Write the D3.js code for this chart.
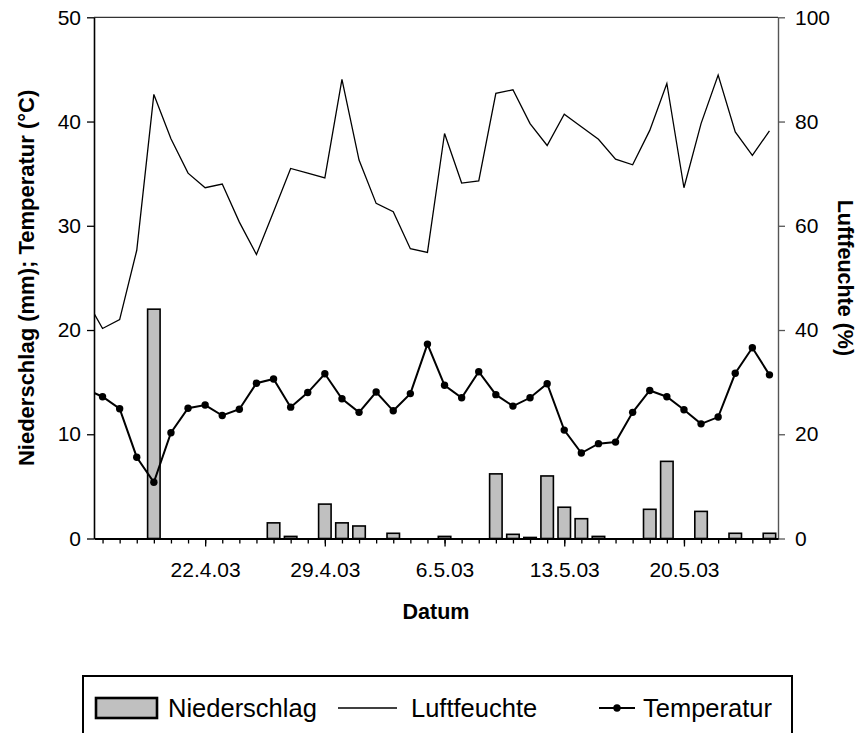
<!DOCTYPE html>
<html>
<head>
<meta charset="utf-8">
<script src="https://cdn.jsdelivr.net/npm/d3@7"></script>
<style>
  body { margin: 0; background: #fff; }
  svg { display: block; }
  text { font-family: "Liberation Sans", Arial, Helvetica, sans-serif; fill: #000; }
</style>
</head>
<body>
<svg id="chart" width="858" height="733"></svg>
<script>
// Daily series, 15.4.03 – 25.5.03 (first day lies just left of the plotted range)
const firstDay = "2003-04-15";
const axisStart = "2003-04-16";
const axisEnd = "2003-05-25";
const labelDays = ["2003-04-22", "2003-04-29", "2003-05-06", "2003-05-13", "2003-05-20"];

// Niederschlag (mm)
const niederschlag = [
  0,
  0, 0, 0, 22.0, 0, 0, 0, 0, 0, 0,
  1.5, 0.2, 0, 3.3, 1.5, 1.2, 0, 0.5, 0, 0,
  0.2, 0, 0, 6.2, 0.4, 0.1, 6.0, 3.0, 1.9, 0.2,
  0, 0, 2.8, 7.4, 0, 2.6, 0, 0.5, 0, 0.5
];

// Temperatur (°C)
const temperatur = [
  14.35,
  13.6, 12.45, 7.8, 5.4, 10.15, 12.5, 12.8, 11.8, 12.4, 14.9,
  15.3, 12.6, 14.0, 15.8, 13.4, 12.1, 14.05, 12.25, 13.9, 18.65,
  14.7, 13.5, 16.0, 13.8, 12.7, 13.5, 14.85, 10.4, 8.2, 9.1,
  9.25, 12.1, 14.2, 13.6, 12.35, 11.0, 11.65, 15.85, 18.3, 15.7
];

// Luftfeuchte (%)
const luftfeuchte = [
  46.1,
  40.3, 42.0, 55.3, 85.2, 76.7, 70.1, 67.3, 68.0, 60.7, 54.5,
  62.7, 71.0, 70.1, 69.2, 88.1, 72.6, 64.3, 62.7, 55.6, 54.9,
  77.7, 68.2, 68.6, 85.4, 86.1, 79.6, 75.4, 81.4, 79.0, 76.6,
  72.8, 71.7, 78.3, 87.3, 67.3, 79.6, 88.9, 78.0, 73.5, 78.2
];

const leftTicks = [0, 10, 20, 30, 40, 50];
const rightTicks = [0, 20, 40, 60, 80, 100];

const parse = d3.utcParse("%Y-%m-%d");
const dates = d3.utcDay.range(parse(firstDay), d3.utcDay.offset(parse(firstDay), niederschlag.length));
const rows = dates.map((d, i) => ({ date: d, n: niederschlag[i], t: temperatur[i], h: luftfeuchte[i] }));

const plot = { left: 94, right: 778, top: 17.3, bottom: 538.5 };
const halfDay = 12 * 3600 * 1000;

const x = d3.scaleUtc()
  .domain([new Date(+parse(axisStart) - halfDay), new Date(+parse(axisEnd) + halfDay)])
  .range([plot.left, plot.right]);
const yL = d3.scaleLinear().domain([0, 50]).range([plot.bottom, plot.top]);
const yR = d3.scaleLinear().domain([0, 100]).range([plot.bottom, plot.top]);

const dayW = x(d3.utcDay.offset(parse(axisStart), 1)) - x(parse(axisStart));
const barW = dayW * 0.73;

const svg = d3.select("#chart");

svg.append("defs").append("clipPath").attr("id", "plotClip")
  .append("rect")
  .attr("x", plot.left).attr("y", plot.top - 5)
  .attr("width", plot.right - plot.left).attr("height", plot.bottom - plot.top + 5);

// top frame line
svg.append("line")
  .attr("x1", plot.left).attr("x2", plot.right)
  .attr("y1", plot.top).attr("y2", plot.top)
  .attr("stroke", "#333").attr("stroke-width", 1.3);

const inner = svg.append("g").attr("clip-path", "url(#plotClip)");

// Niederschlag bars
inner.selectAll("rect.bar")
  .data(rows.filter(r => r.n > 0))
  .join("rect")
  .attr("class", "bar")
  .attr("x", d => x(d.date) - barW / 2)
  .attr("width", barW)
  .attr("y", d => yL(d.n))
  .attr("height", d => yL(0) - yL(d.n))
  .attr("fill", "#c0c0c0")
  .attr("stroke", "#000")
  .attr("stroke-width", 1.6);

// Luftfeuchte line (right axis)
inner.append("path")
  .datum(rows)
  .attr("fill", "none")
  .attr("stroke", "#000")
  .attr("stroke-width", 1.3)
  .attr("stroke-linejoin", "miter")
  .attr("d", d3.line().x(d => x(d.date)).y(d => yR(d.h)));

// Temperatur line with markers (left axis)
inner.append("path")
  .datum(rows)
  .attr("fill", "none")
  .attr("stroke", "#000")
  .attr("stroke-width", 2)
  .attr("d", d3.line().x(d => x(d.date)).y(d => yL(d.t)));

inner.selectAll("circle.temp")
  .data(rows.filter(r => x(r.date) >= plot.left))
  .join("circle")
  .attr("class", "temp")
  .attr("cx", d => x(d.date))
  .attr("cy", d => yL(d.t))
  .attr("r", 3.7)
  .attr("fill", "#000");

// Left axis
const gL = svg.append("g")
  .attr("transform", `translate(${plot.left},0)`)
  .call(d3.axisLeft(yL).tickValues(leftTicks).tickSize(7).tickSizeOuter(0).tickPadding(6));
gL.select(".domain").attr("stroke", "#000").attr("stroke-width", 1.6);
gL.selectAll(".tick line").attr("stroke", "#000").attr("stroke-width", 1.3);
gL.selectAll(".tick text").attr("font-size", 21).attr("font-family", null);

// Right axis
const gR = svg.append("g")
  .attr("transform", `translate(${plot.right},0)`)
  .call(d3.axisRight(yR).tickValues(rightTicks).tickSize(7).tickSizeOuter(0).tickPadding(10));
gR.select(".domain").attr("stroke", "#555").attr("stroke-width", 1.4);
gR.selectAll(".tick line").attr("stroke", "#555").attr("stroke-width", 1.3);
gR.selectAll(".tick text").attr("font-size", 21).attr("font-family", null);

// Bottom axis: a short tick per day, longer labelled ticks each week
const allDays = d3.utcDay.range(parse(axisStart), d3.utcDay.offset(parse(axisEnd), 1));
const gB = svg.append("g")
  .attr("transform", `translate(0,${plot.bottom})`)
  .call(d3.axisBottom(x).tickValues(allDays).tickSize(5).tickSizeOuter(0).tickFormat(""));
gB.select(".domain").attr("stroke", "#000").attr("stroke-width", 2);
gB.selectAll(".tick line").attr("stroke", "#000").attr("stroke-width", 1.3);

const fmt = d3.utcFormat("%-d.%-m.%y");
const gM = svg.append("g")
  .attr("transform", `translate(0,${plot.bottom})`)
  .call(d3.axisBottom(x).tickValues(labelDays.map(parse)).tickSize(8).tickSizeOuter(0).tickPadding(15.5).tickFormat(fmt));
gM.select(".domain").remove();
gM.selectAll(".tick line").attr("stroke", "#000").attr("stroke-width", 1.3);
gM.selectAll(".tick text").attr("font-size", 21).attr("font-family", null);

// Axis titles
svg.append("text")
  .attr("transform", `translate(${(plot.left + plot.right) / 2},619)`)
  .attr("text-anchor", "middle")
  .attr("font-size", 21.5).attr("font-weight", "bold")
  .text("Datum");

svg.append("text")
  .attr("transform", `translate(33.5,${(plot.top + plot.bottom) / 2}) rotate(-90)`)
  .attr("text-anchor", "middle")
  .attr("font-size", 22).attr("font-weight", "bold")
  .text("Niederschlag (mm); Temperatur (°C)");

svg.append("text")
  .attr("transform", `translate(838,${(plot.top + plot.bottom) / 2}) rotate(90)`)
  .attr("text-anchor", "middle")
  .attr("font-size", 21.5).attr("font-weight", "bold")
  .text("Luftfeuchte (%)");

// Legend
const lg = svg.append("g");
lg.append("rect")
  .attr("x", 83).attr("y", 676).attr("width", 709).attr("height", 90)
  .attr("fill", "#fff").attr("stroke", "#000").attr("stroke-width", 2);

const legendY = 708;
const legendFont = 25.5;
lg.append("rect")
  .attr("x", 96).attr("y", legendY - 10).attr("width", 61).attr("height", 20)
  .attr("fill", "#c0c0c0").attr("stroke", "#000").attr("stroke-width", 2.6);
lg.append("text").attr("x", 168).attr("y", legendY + 9).attr("font-size", legendFont).text("Niederschlag");

lg.append("line")
  .attr("x1", 338).attr("x2", 397).attr("y1", legendY).attr("y2", legendY)
  .attr("stroke", "#000").attr("stroke-width", 1.3);
lg.append("text").attr("x", 411).attr("y", legendY + 9).attr("font-size", legendFont).text("Luftfeuchte");

lg.append("line")
  .attr("x1", 599).attr("x2", 635).attr("y1", legendY).attr("y2", legendY)
  .attr("stroke", "#000").attr("stroke-width", 2);
lg.append("circle").attr("cx", 617).attr("cy", legendY).attr("r", 3.7).attr("fill", "#000");
lg.append("text").attr("x", 643).attr("y", legendY + 9).attr("font-size", legendFont).text("Temperatur");
</script>
</body>
</html>
